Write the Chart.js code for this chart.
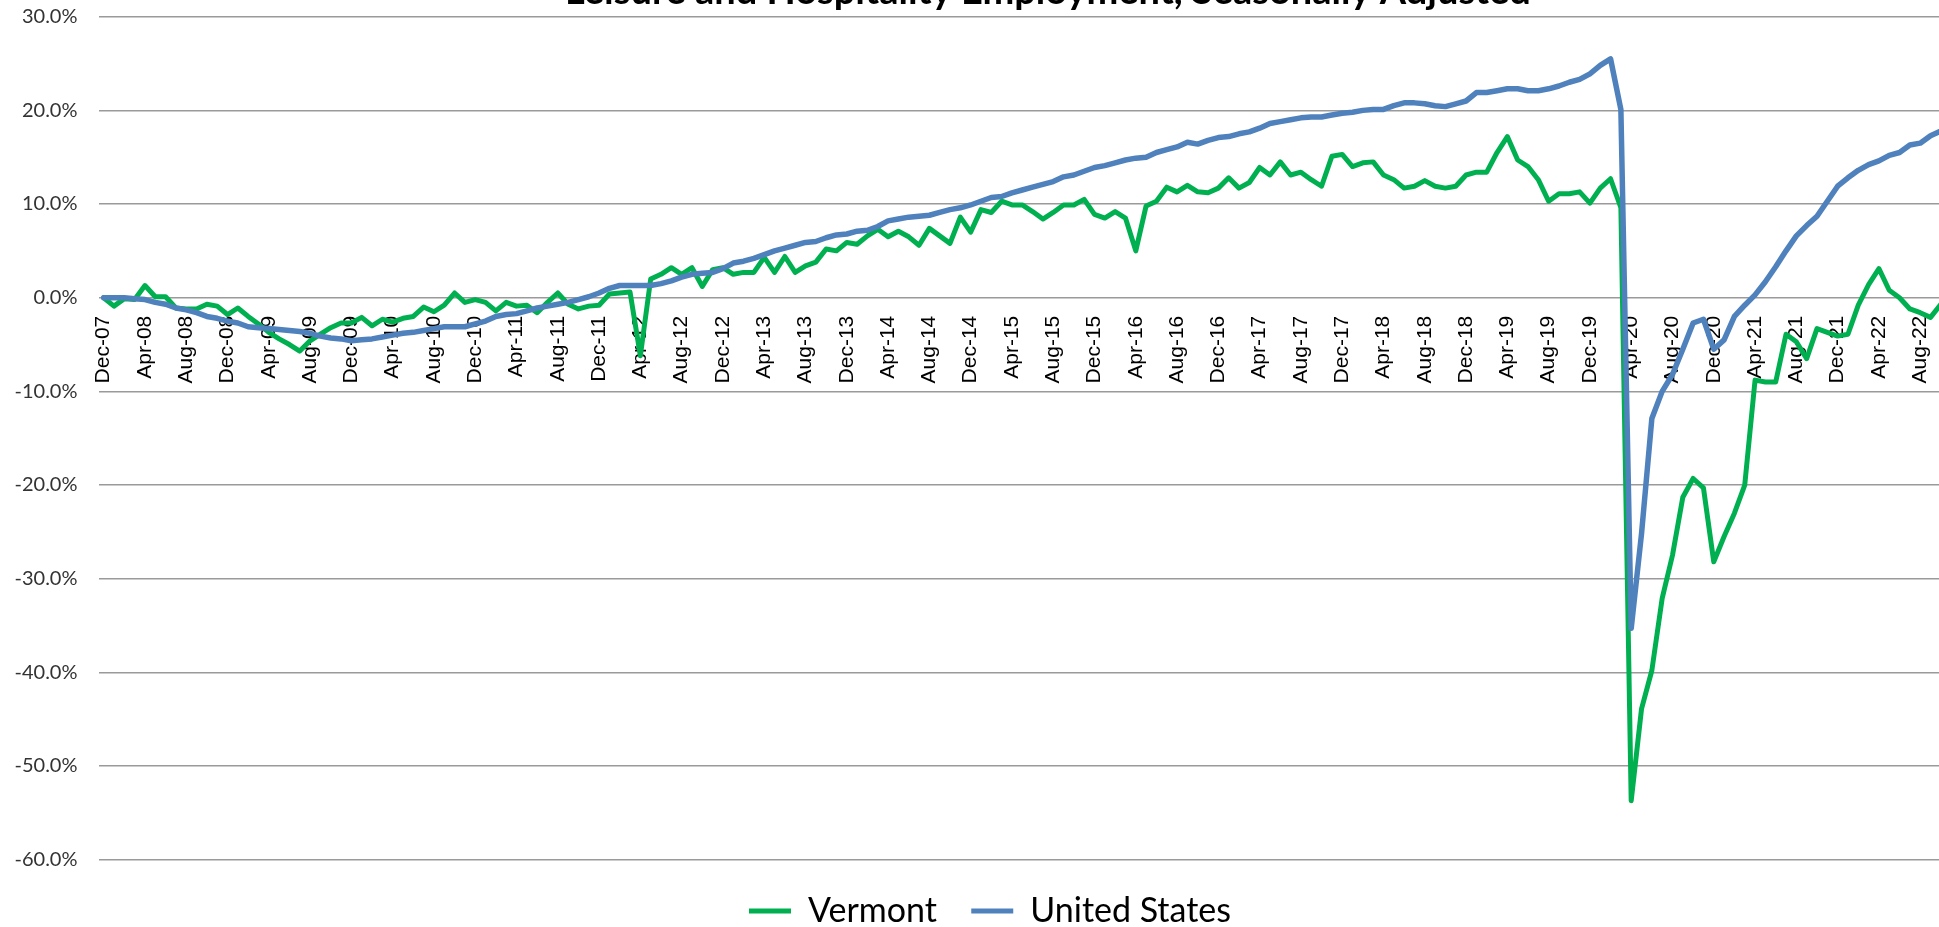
<!DOCTYPE html>
<html>
<head>
<meta charset="utf-8">
<script src="https://cdn.jsdelivr.net/npm/chart.js@4.4.1/dist/chart.umd.min.js"></script>
<style>
  html, body { margin: 0; padding: 0; background: #ffffff; overflow: hidden; width: 1939px; height: 927px; }
  #wrap { position: absolute; left: 0; top: -32px; width: 1978px; height: 970px; }
  canvas { display: block; }
</style>
</head>
<body>
<div id="wrap"><canvas id="c" width="1978" height="970"></canvas></div>
<script>
// ---- Data (percent change since Dec-07) ----
const monthNames = ['Jan','Feb','Mar','Apr','May','Jun','Jul','Aug','Sep','Oct','Nov','Dec'];
const startYear = 2007, startMonth = 11; // Dec-07
const monthCount = 179; // Dec-07 .. Oct-22

const vermont = [
  0.0, -0.9, -0.1, -0.2, 1.3, 0.1, 0.1, -1.1, -1.2, -1.2, -0.7, -0.9,
  -1.8, -1.1, -2.0, -2.8, -3.7, -4.4, -5.0, -5.7, -4.6, -3.9, -3.2, -2.7,
  -2.7, -2.1, -3.0, -2.3, -2.6, -2.2, -2.0, -1.0, -1.5, -0.8, 0.5, -0.5,
  -0.2, -0.5, -1.4, -0.5, -0.9, -0.8, -1.6, -0.5, 0.5, -0.7, -1.2, -0.9,
  -0.8, 0.4, 0.5, 0.6, -6.2, 2.0, 2.5, 3.2, 2.5, 3.2, 1.2, 3.0,
  3.2, 2.5, 2.7, 2.7, 4.3, 2.7, 4.4, 2.7, 3.4, 3.8, 5.2, 5.0,
  5.9, 5.7, 6.6, 7.3, 6.5, 7.1, 6.5, 5.6, 7.4, 6.6, 5.8, 8.6,
  7.0, 9.4, 9.1, 10.3, 9.9, 9.9, 9.2, 8.4, 9.1, 9.9, 9.9, 10.5,
  8.9, 8.5, 9.2, 8.5, 5.0, 9.8, 10.3, 11.8, 11.3, 12.0, 11.3, 11.2,
  11.7, 12.8, 11.7, 12.3, 13.9, 13.1, 14.5, 13.1, 13.4, 12.6, 11.9, 15.1,
  15.3, 14.0, 14.4, 14.5, 13.1, 12.6, 11.7, 11.9, 12.5, 11.9, 11.7, 11.9,
  13.1, 13.4, 13.4, 15.5, 17.2, 14.7, 14.0, 12.6, 10.3, 11.1, 11.1, 11.3,
  10.1, 11.7, 12.7, 9.6, -53.7, -43.9, -39.8, -32.1, -27.5, -21.3, -19.3, -20.3,
  -28.2, -25.5, -23.0, -20.0, -8.8, -9.0, -9.0, -3.9, -4.7, -6.5, -3.3, -3.7,
  -4.1, -3.9, -0.8, 1.4, 3.1, 0.8, 0.0, -1.2, -1.6, -2.1, -0.7
];

const unitedStates = [
  0.0, 0.0, 0.0, -0.1, -0.2, -0.5, -0.7, -1.1, -1.3, -1.6, -2.0, -2.2,
  -2.5, -2.7, -3.1, -3.2, -3.3, -3.4, -3.5, -3.6, -3.8, -4.1, -4.3, -4.4,
  -4.6, -4.5, -4.4, -4.2, -4.0, -3.8, -3.7, -3.5, -3.3, -3.1, -3.1, -3.1,
  -2.8, -2.5, -2.0, -1.8, -1.7, -1.4, -1.1, -0.9, -0.7, -0.5, -0.2, 0.1,
  0.5, 1.0, 1.3, 1.3, 1.3, 1.3, 1.5, 1.8, 2.2, 2.5, 2.6, 2.7,
  3.1, 3.7, 3.9, 4.2, 4.6, 5.0, 5.3, 5.6, 5.9, 6.0, 6.4, 6.7,
  6.8, 7.1, 7.2, 7.6, 8.2, 8.4, 8.6, 8.7, 8.8, 9.1, 9.4, 9.6,
  9.9, 10.3, 10.7, 10.8, 11.2, 11.5, 11.8, 12.1, 12.4, 12.9, 13.1, 13.5,
  13.9, 14.1, 14.4, 14.7, 14.9, 15.0, 15.5, 15.8, 16.1, 16.6, 16.4, 16.8,
  17.1, 17.2, 17.5, 17.7, 18.1, 18.6, 18.8, 19.0, 19.2, 19.3, 19.3, 19.5,
  19.7, 19.8, 20.0, 20.1, 20.1, 20.5, 20.8, 20.8, 20.7, 20.5, 20.4, 20.7,
  21.0, 21.9, 21.9, 22.1, 22.3, 22.3, 22.1, 22.1, 22.3, 22.6, 23.0, 23.3,
  23.9, 24.8, 25.5, 20.1, -35.3, -25.2, -12.9, -10.0, -8.2, -5.5, -2.7, -2.3,
  -5.5, -4.5, -2.0, -0.8, 0.3, 1.7, 3.3, 5.0, 6.6, 7.7, 8.7, 10.3,
  11.9, 12.8, 13.6, 14.2, 14.6, 15.2, 15.5, 16.3, 16.5, 17.3, 17.8
];

const yTicks = [30, 20, 10, 0, -10, -20, -30, -40, -50, -60];
const seriesNames = ['Vermont', 'United States'];
const titleText = 'Leisure and Hospitality Employment, Seasonally Adjusted';

const categories = [];
for (let k = 0; k < monthCount; k++) {
  const m = (startMonth + k) % 12;
  const y = startYear + Math.floor((startMonth + k) / 12);
  categories.push(monthNames[m] + '-' + String(y % 100).padStart(2, '0'));
}

// shift the title and legend blocks horizontally (Excel-like placement)
const blockShift = {
  id: 'blockShift',
  afterLayout(chart) {
    if (chart.titleBlock) { chart.titleBlock.left += 150; }
    if (chart.legend) { chart.legend.left += 17; chart.legend.right += 17; }
  }
};

new Chart(document.getElementById('c'), {
  type: 'line',
  data: {
    labels: categories,
    datasets: [
      {
        label: seriesNames[0],
        data: vermont,
        borderColor: '#00B050',
        backgroundColor: '#00B050',
        borderWidth: 5,
        pointRadius: 0,
        tension: 0,
        borderJoinStyle: 'round',
        borderCapStyle: 'round',
        order: 1
      },
      {
        label: seriesNames[1],
        data: unitedStates,
        borderColor: '#4F81BD',
        backgroundColor: '#4F81BD',
        borderWidth: 5.5,
        pointRadius: 0,
        tension: 0,
        borderJoinStyle: 'round',
        borderCapStyle: 'round',
        order: 0
      }
    ]
  },
  options: {
    responsive: false,
    animation: false,
    devicePixelRatio: 1,
    layout: { padding: { left: 0, right: 32, top: 0, bottom: 0 } },
    plugins: {
      tooltip: { enabled: false },
      title: {
        display: true,
        text: titleText,
        color: '#000000',
        font: { family: 'Lato', size: 38, weight: 'bold', lineHeight: 1.2 },
        padding: { top: 0.5, bottom: 2.6 }
      },
      legend: {
        position: 'bottom',
        labels: {
          color: '#000000',
          font: { family: 'Lato', size: 34 },
          boxWidth: 42,
          boxHeight: 5,
          padding: 34.3,
          sort: (a, b) => a.datasetIndex - b.datasetIndex,
          generateLabels(chart) {
            const items = Chart.defaults.plugins.legend.labels.generateLabels(chart);
            items.forEach(it => {
              const c = chart.data.datasets[it.datasetIndex].borderColor;
              it.fillStyle = c; it.strokeStyle = c; it.lineWidth = 0;
            });
            return items;
          }
        }
      }
    },
    scales: {
      x: {
        type: 'category',
        offset: true,
        position: { y: 0 },
        grid: { display: false, drawTicks: false },
        border: { display: false },
        ticks: {
          autoSkip: false,
          minRotation: 90,
          maxRotation: 90,
          padding: 18,
          color: '#000000',
          font: { family: 'Liberation Sans', size: 21 },
          callback: function(value, index) { return index % 4 === 0 ? this.getLabelForValue(value) : null; }
        }
      },
      y: {
        min: -60,
        max: 30,
        afterFit: (s) => { s.width = 98.5; },
        afterBuildTicks: (s) => { s.ticks = yTicks.map(v => ({ value: v })); },
        grid: { color: '#9a9a9a', lineWidth: 1.5, drawTicks: false },
        border: { display: false },
        ticks: {
          padding: 21,
          color: '#333333',
          font: { family: 'Lato', size: 20 },
          callback: (v) => v.toFixed(1) + '%'
        }
      }
    }
  },
  plugins: [blockShift]
});
</script>
</body>
</html>
